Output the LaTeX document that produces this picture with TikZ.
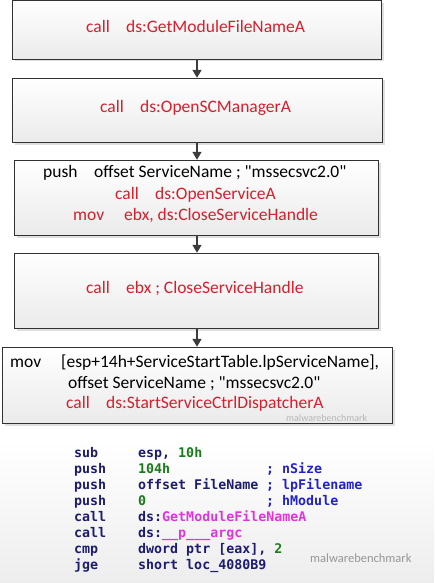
\documentclass[tikz,border=0pt]{standalone}
\usepackage{fontspec}
\setmainfont{Carlito}[Ligatures=TeXOff]
\newfontfamily\codefont{DejaVu Sans Mono}
\usetikzlibrary{arrows.meta,shadows}
\definecolor{asmred}{RGB}{212,32,44}
\definecolor{boxline}{RGB}{50,50,50}
\definecolor{arrowgray}{RGB}{60,60,60}
\definecolor{navy}{RGB}{28,28,112}
\definecolor{idagreen}{RGB}{24,124,24}
\definecolor{idamag}{RGB}{222,52,222}
\definecolor{idablue}{RGB}{34,34,200}
\definecolor{wm}{RGB}{150,150,150}
\tikzset{
  flowbox/.style={draw=boxline, line width=0.9pt, top color=white, bottom color=black!8,
    drop shadow={shadow xshift=2.5pt, shadow yshift=-2.5pt, fill=black!25, opacity=0.5}},
  flowarrow/.style={draw=arrowgray, line width=1.6pt, -{Triangle[length=8pt,width=9pt]}},
  asm/.style={anchor=mid west, inner sep=0pt, font=\fontsize{17.5}{20}\selectfont},
  code/.style={anchor=mid west, inner sep=0pt, font=\codefont\bfseries\fontsize{13.3}{16}\selectfont},
}
\begin{document}
\begin{tikzpicture}[x=1pt,y=-1pt]
\useasboundingbox (0,0) rectangle (434,583);
\shade[top color=white, bottom color=black!7] (0,440) rectangle (434,583);
% boxes
\path[flowbox] (12,0.5) rectangle (381,59);
\path[flowbox] (12,78) rectangle (382,142);
\path[flowbox] (14,160) rectangle (378,235);
\path[flowbox] (14,253) rectangle (378,328);
\path[flowbox] (2,347) rectangle (392,423);
\node[inner sep=0pt, minimum width=369pt, minimum height=58.5pt] (b1) at (196.5,29.75) {};
\node[inner sep=0pt, minimum width=370pt, minimum height=64pt] (b2) at (197,110) {};
\node[inner sep=0pt, minimum width=364pt, minimum height=75pt] (b3) at (196,197.5) {};
\node[inner sep=0pt, minimum width=364pt, minimum height=75pt] (b4) at (196,290.5) {};
\node[inner sep=0pt, minimum width=390pt, minimum height=76pt] (b5) at (197,385) {};
% arrows
\draw[flowarrow] (b1.south -| 197,0) -- (b2.north -| 197,0);
\draw[flowarrow] (b2.south -| 197,0) -- (b3.north -| 197,0);
\draw[flowarrow] (b3.south -| 197,0) -- (b4.north -| 197,0);
\draw[flowarrow] (b4.south -| 197,0) -- (b5.north -| 197,0);
% box texts
\node[asm, asmred] (t1a) at (86,30) {call};
\node[asm, asmred] (t1b) at (126,30) {ds:GetModuleFileNameA};
\node[asm, asmred] (t2a) at (100,110) {call};
\node[asm, asmred] (t2b) at (140,110) {ds:OpenSCManagerA};
\node[asm] (t3a) at (43,175) {push};
\node[asm] (t3b) at (94,175) {offset ServiceName ; "mssecsvc2.0"};
\node[asm, asmred] (t3c) at (115,197) {call};
\node[asm, asmred] (t3d) at (155,197) {ds:OpenServiceA};
\node[asm, asmred] (t3e) at (73,218) {mov};
\node[asm, asmred] (t3f) at (124,218) {ebx, ds:CloseServiceHandle};
\node[asm, asmred] (t4a) at (86,291) {call};
\node[asm, asmred] (t4b) at (126,291) {ebx ; CloseServiceHandle};
\node[asm] (t5a) at (10,365) {mov};
\node[asm] (t5b) at (61,365) {[esp+14h+ServiceStartTable.lpServiceName],};
\node[asm] (t5c) at (68,386) {offset ServiceName ; "mssecsvc2.0"};
\node[asm, asmred] (t5d) at (66,406) {call};
\node[asm, asmred] (t5e) at (106,406) {ds:StartServiceCtrlDispatcherA};
\node[anchor=mid west, inner sep=0pt, text=wm!70, font=\fontsize{10}{12}\selectfont] (wm1) at (286,419) {malwarebenchmark};
% code listing
\node[code, navy] (m1) at (74,455) {sub};
\node[code] (o1) at (138,455) {\textcolor{navy}{esp,} \textcolor{idagreen}{10h}};
\node[code, navy] (m2) at (74,471.5) {push};
\node[code, idagreen] (o2) at (138,471.5) {104h};
\node[code, idablue] (c2) at (266,471.5) {; nSize};
\node[code, navy] (m3) at (74,487.5) {push};
\node[code, navy] (o3) at (138,487.5) {offset FileName};
\node[code, idablue] (c3) at (266,487.5) {; lpFilename};
\node[code, navy] (m4) at (74,503.5) {push};
\node[code, idagreen] (o4) at (138,503.5) {0};
\node[code, idablue] (c4) at (266,503.5) {; hModule};
\node[code, navy] (m5) at (74,519.5) {call};
\node[code] (o5) at (138,519.5) {\textcolor{navy}{ds:}\textcolor{idamag}{GetModuleFileNameA}};
\node[code, navy] (m6) at (74,535.5) {call};
\node[code] (o6) at (138,535.5) {\textcolor{navy}{ds:}\textcolor{idamag}{\_\_p\_\_\_argc}};
\node[code, navy] (m7) at (74,551.5) {cmp};
\node[code] (o7) at (138,551.5) {\textcolor{navy}{dword ptr [eax],} \textcolor{idagreen}{2}};
\node[code, navy] (m8) at (74,567.5) {jge};
\node[code, navy] (o8) at (138,567.5) {short loc\_4080B9};
\node[anchor=mid west, inner sep=0pt, text=wm, font=\fontsize{12.5}{14}\selectfont] (wm2) at (310,560) {malwarebenchmark};
\end{tikzpicture}
\end{document}
